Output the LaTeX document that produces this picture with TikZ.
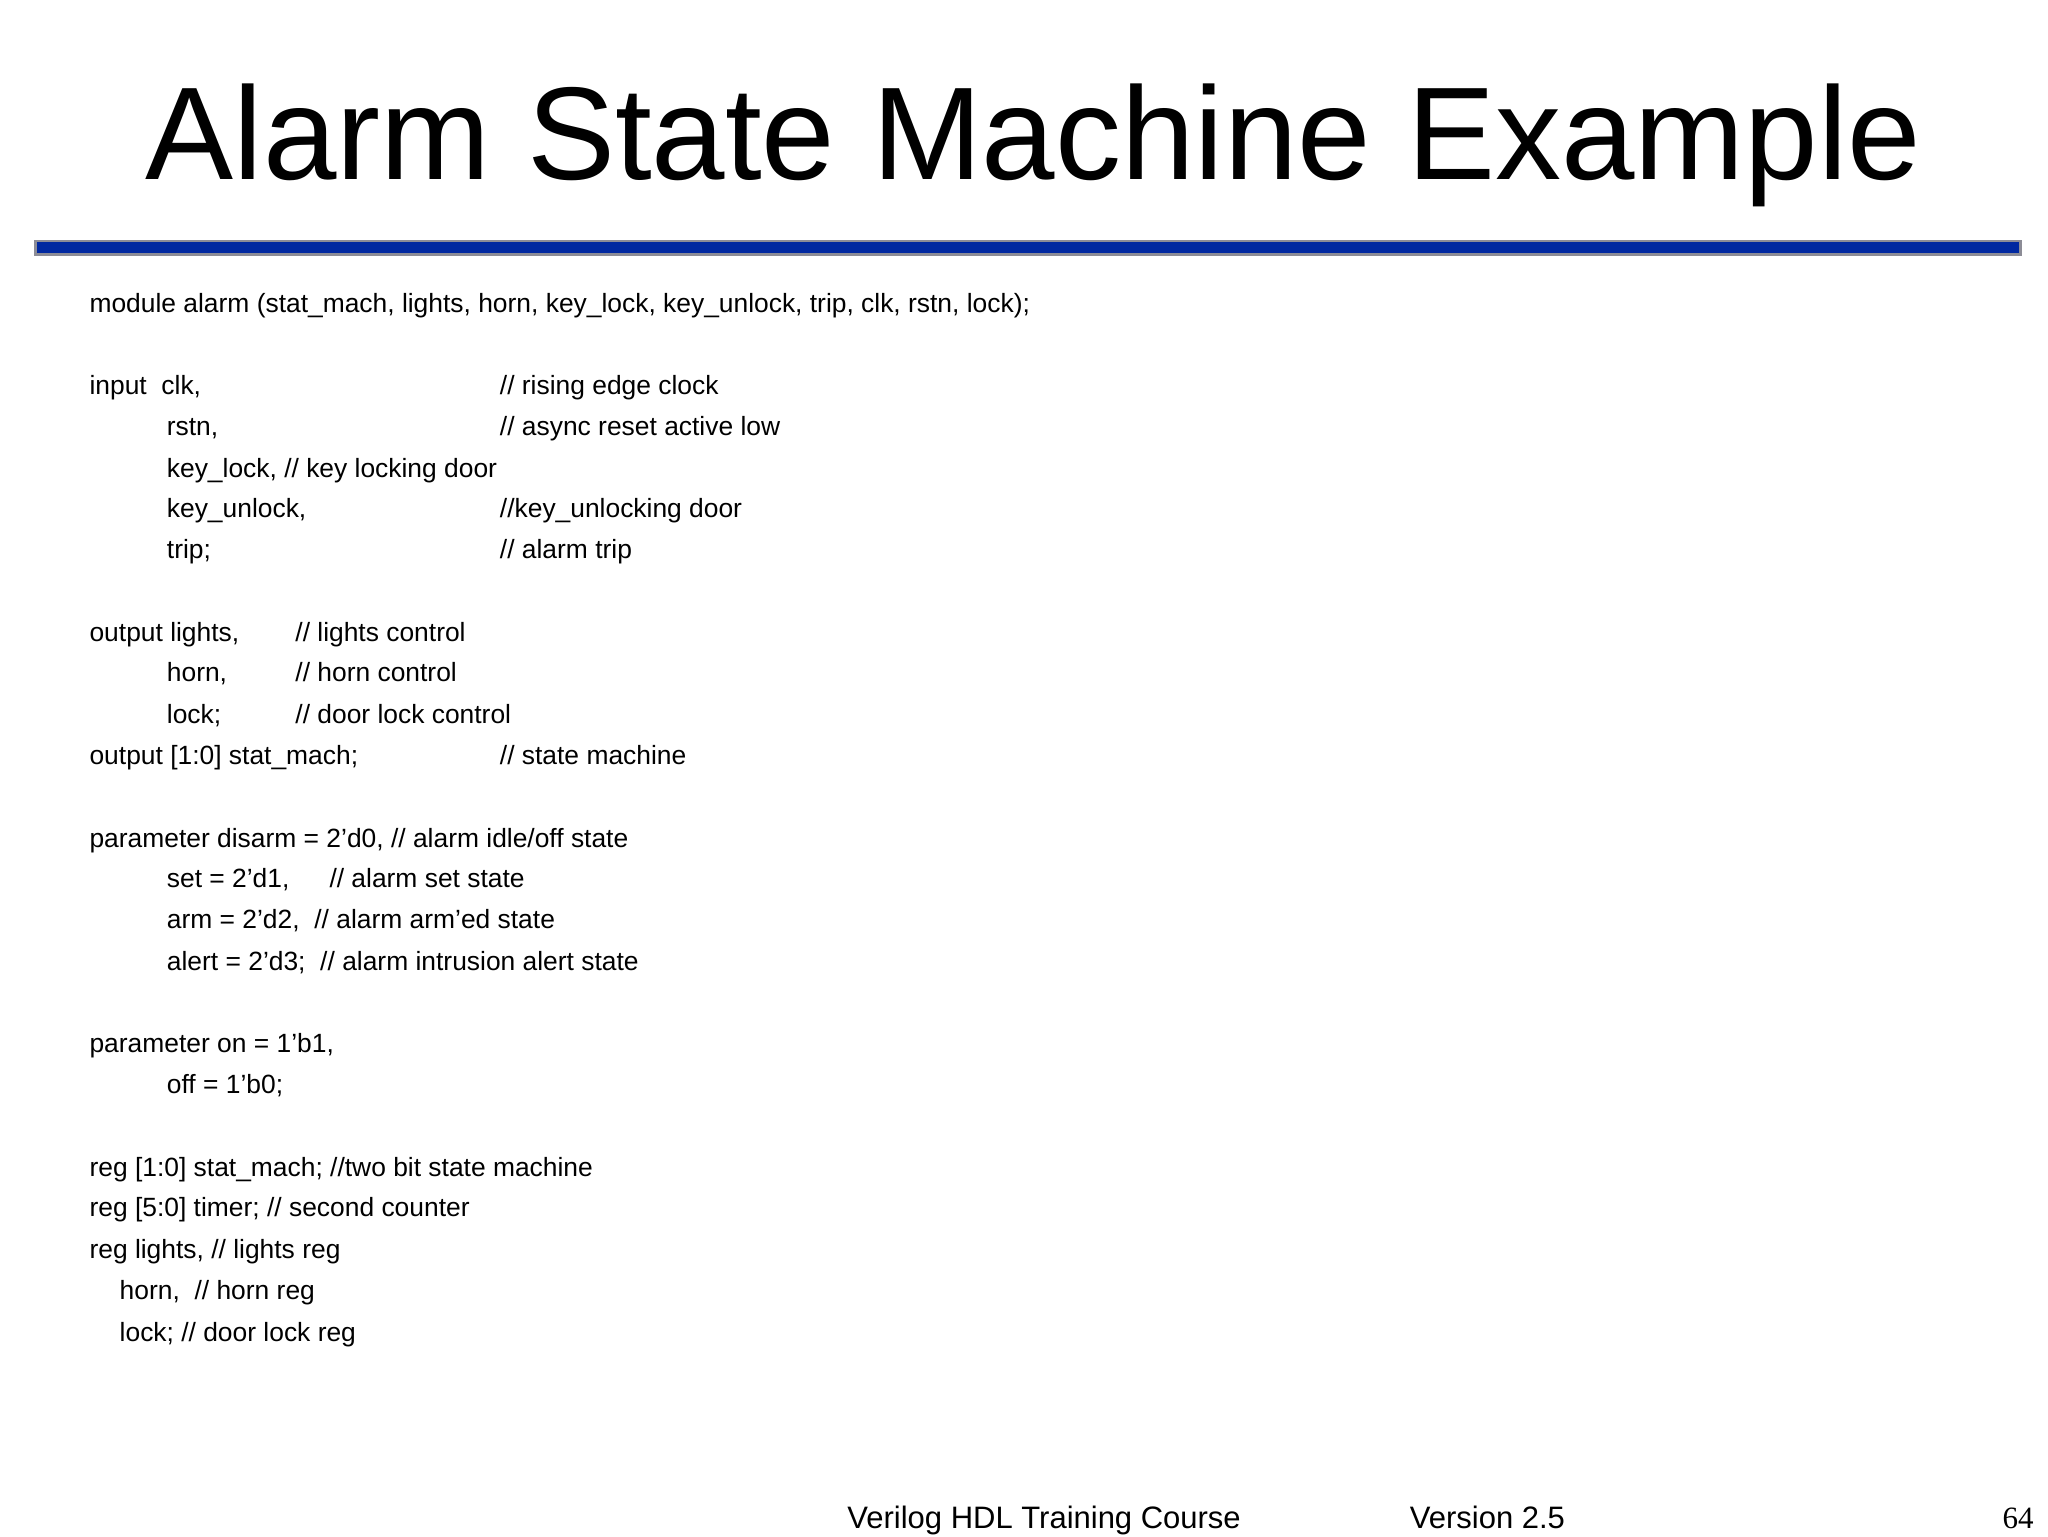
\documentclass[tikz,border=0pt]{standalone}
\usepackage{fontspec}
\setmainfont{Liberation Sans}
\newfontfamily\serifnum{Liberation Serif}
\definecolor{barblue}{RGB}{0,40,160}
\definecolor{bargray}{RGB}{140,140,150}
\begin{document}
\begin{tikzpicture}[x=0.6556pt,y=-0.6556pt,
  code/.style={anchor=base west,inner sep=0pt,font=\fontsize{13.2}{15}\selectfont},
  foot/.style={anchor=base west,inner sep=0pt,font=\fontsize{15.5}{18}\selectfont}]
\useasboundingbox (0,0) rectangle (1562,1172);
\fill[white] (0,0) rectangle (1562,1172);
\node[anchor=base west,inner sep=0pt,font=\fontsize{66}{70}\selectfont] (title) at (111,137) {Alarm State Machine Example};
\draw[bargray,fill=barblue,line width=1.2pt] (27,184) rectangle (1541,194);
\node[code] (l1) at (68,238) {module alarm (stat\_mach, lights, horn, key\_lock, key\_unlock, trip, clk, rstn, lock);};
\node[code] (l2) at (68,301) {input\ \ clk,};
\node[code] (c2) at (381,301) {// rising edge clock};
\node[code] (l3) at (127,332) {rstn,};
\node[code] (c3) at (381,332) {// async reset active low};
\node[code] (l4) at (127,364) {key\_lock, // key locking door};
\node[code] (l5) at (127,395) {key\_unlock,};
\node[code] (c5) at (381,395) {//key\_unlocking door};
\node[code] (l6) at (127,426) {trip;};
\node[code] (c6) at (381,426) {// alarm trip};
\node[code] (l7) at (68,489) {output lights,};
\node[code] (c7) at (225,489) {// lights control};
\node[code] (l8) at (127,520) {horn,};
\node[code] (c8) at (225,520) {// horn control};
\node[code] (l9) at (127,552) {lock;};
\node[code] (c9) at (225,552) {// door lock control};
\node[code] (l10) at (68,583) {output [1:0] stat\_mach;};
\node[code] (c10) at (381,583) {// state machine};
\node[code] (l11) at (68,646) {parameter disarm = 2'd0, // alarm idle/off state};
\node[code] (l12) at (127,677) {set = 2'd1,};
\node[code] (c12) at (251,677) {// alarm set state};
\node[code] (l13) at (127,708) {arm = 2'd2,\ \ // alarm arm'ed state};
\node[code] (l14) at (127,740) {alert = 2'd3;\ \ // alarm intrusion alert state};
\node[code] (l15) at (68,803) {parameter on = 1'b1,};
\node[code] (l16) at (127,834) {off = 1'b0;};
\node[code] (l17) at (68,897) {reg [1:0] stat\_mach; //two bit state machine};
\node[code] (l18) at (68,928) {reg [5:0] timer; // second counter};
\node[code] (l19) at (68,960) {reg lights, // lights reg};
\node[code] (l20) at (91,991) {horn,\ \ // horn reg};
\node[code] (l21) at (91,1023) {lock; // door lock reg};
\node[foot] (f1) at (646,1166) {Verilog HDL Training Course};
\node[foot] (f2) at (1075,1166) {Version 2.5};
\node[anchor=base west,inner sep=0pt,font=\serifnum\fontsize{15.5}{18}\selectfont] (pg) at (1527,1166) {64};
\end{tikzpicture}
\end{document}
